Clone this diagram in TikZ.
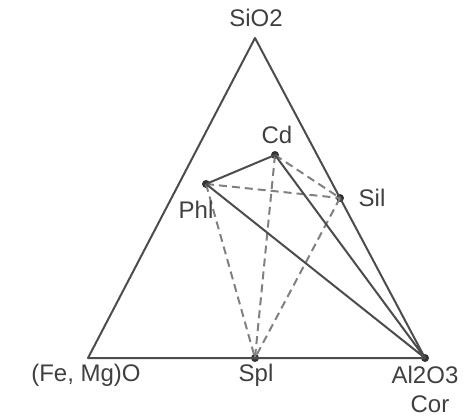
\documentclass[tikz,border=0pt]{standalone}
\usepackage{fontspec}
\setmainfont{Liberation Sans}
\begin{document}
\begin{tikzpicture}[x=1pt,y=1pt,
  edge/.style={draw=black!70, line width=2pt, line join=round},
  dline/.style={draw=black!50, line width=2pt, dash pattern=on 8pt off 5pt},
  pt/.style={circle, fill=black!80, inner sep=0pt, minimum size=8pt},
  lab/.style={text=black!75, font=\fontsize{24}{26}\selectfont, inner sep=0pt}]
\useasboundingbox (0,0) rectangle (468,418);
\coordinate (A) at (255,380);
\coordinate (L) at (88,60);
\node[pt] (R) at (425,60) {};
\node[pt] (Cd) at (275,263) {};
\node[pt] (Phl) at (206,234) {};
\node[pt] (Sil) at (340,220) {};
\node[pt] (Spl) at (255,60) {};
\draw[edge] (L) -- (A) -- (R.center) -- cycle;
\draw[dline] (Phl.center) -- (Sil.center);
\draw[dline] (Cd.center) -- (Sil.center);
\draw[dline] (Phl.center) -- (Spl.center);
\draw[dline] (Cd.center) -- (Spl.center);
\draw[dline] (Sil.center) -- (Spl.center);
\draw[edge] (Phl.center) -- (Cd.center) -- (R.center) -- (Phl.center);
\node[lab] (tSi) at (256,400) {SiO2};
\node[lab] (tCd) at (277,283) {Cd};
\node[lab] (tSil) at (372,220) {Sil};
\node[lab] (tPhl) at (196,208) {Phl};
\node[lab] (tFe) at (86,43) {(Fe, Mg)O};
\node[lab] (tSpl) at (256,43) {Spl};
\node[lab] (tAl) at (425,43) {Al2O3};
\node[lab] (tCor) at (430,14) {Cor};
\end{tikzpicture}
\end{document}
